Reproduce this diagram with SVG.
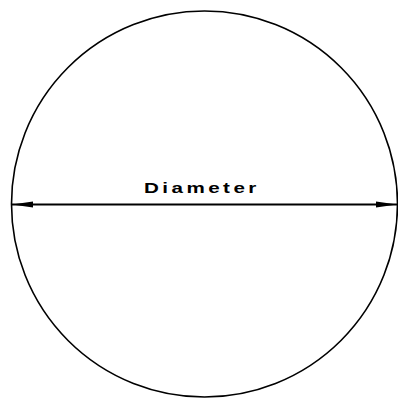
<svg xmlns="http://www.w3.org/2000/svg" width="398" height="400" viewBox="0 0 398 400">
<style>
.c{fill:none;stroke:#000;stroke-width:1.6}
.d{stroke:#000;stroke-width:2.2}
.t{font-family:"Liberation Sans",Arial,sans-serif;font-weight:bold;font-size:15.5px;letter-spacing:2.6px;fill:#000}
</style>
<rect width="398" height="400" fill="#fff"/>
<g id="circle"><circle class="c" cx="204.5" cy="204" r="193"/></g>
<g id="connectors">
<line class="d" x1="12" y1="204.5" x2="397" y2="204.5"/>
<polygon points="12,204.5 33,201.5 33,207.5" fill="#000"/>
<polygon points="397,204.5 376,201.5 376,207.5" fill="#000"/>
</g>
<g id="label"><text class="t" transform="translate(144,192.5) scale(1.33,1)" x="0" y="0">Diameter</text></g>
</svg>
